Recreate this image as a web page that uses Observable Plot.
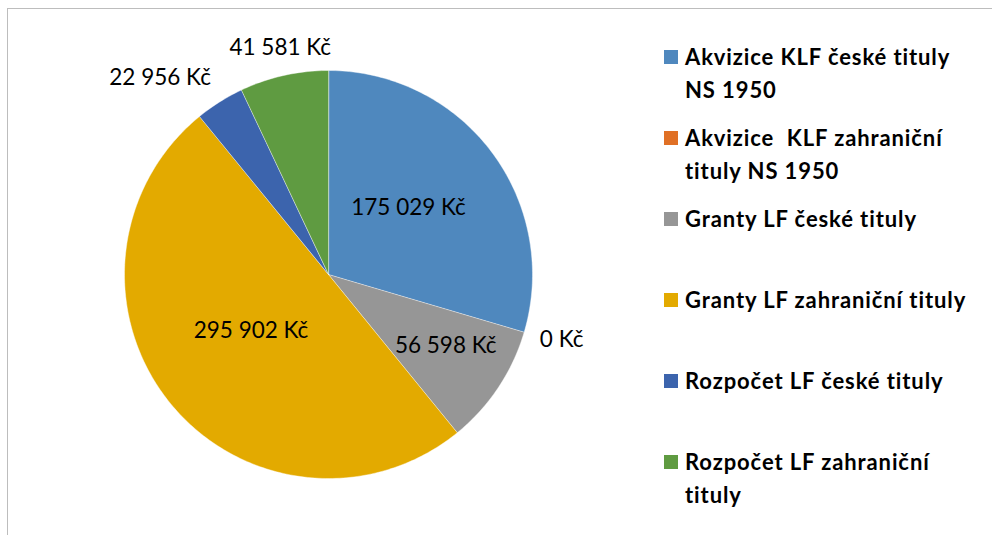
<!DOCTYPE html>
<html>
<head>
<meta charset="utf-8">
<script src="https://cdn.jsdelivr.net/npm/d3@7"></script>
<script src="https://cdn.jsdelivr.net/npm/@observablehq/plot@0.6"></script>
<style>
  html, body { margin: 0; padding: 0; background: #fff; }
  #wrap { position: relative; width: 992px; height: 535px; overflow: hidden; font-family: Lato, "Open Sans", sans-serif; }
  #frame { position: absolute; left: 7px; top: 8px; right: -2px; bottom: -2px; border-left: 1.5px solid #bdbdbd; border-top: 1.5px solid #bdbdbd; }
  #legend { position: absolute; left: 664px; top: 40px; }
  .item { height: 81px; display: flex; align-items: flex-start; }
  .sw { width: 14px; height: 14px; margin-top: 10px; margin-right: 7px; flex: none; }
  .lt { font-weight: bold; font-size: 22px; letter-spacing: 0.9px; line-height: 33px; color: #000; width: 293px; white-space: pre-wrap; }
  svg { position: absolute; left: 0; top: 0; }
</style>
</head>
<body>
<div id="wrap"><div id="frame"></div><div id="legend"></div></div>
<script>
const categories = [
  "Akvizice KLF české tituly NS 1950",
  "Akvizice  KLF zahraniční tituly NS 1950",
  "Granty LF české tituly",
  "Granty LF zahraniční tituly",
  "Rozpočet LF české tituly",
  "Rozpočet LF zahraniční tituly"
];
const values = [175029, 0, 56598, 295902, 22956, 41581];
const valueLabels = ["175 029 Kč", "0 Kč", "56 598 Kč", "295 902 Kč", "22 956 Kč", "41 581 Kč"];
const colors = ["#4F88BE", "#E07025", "#969696", "#E3AA00", "#3C64AD", "#5F9B41"];

const total = d3.sum(values);
const arcs = d3.pie().sort(null).value(d => d)(values);
const R = 204; // pie radius in pixels (matches the margins below)

// polygon points for each slice (y up, unit radius)
const pts = [];
arcs.forEach((a, i) => {
  if (a.endAngle - a.startAngle <= 0) return;
  pts.push({cat: categories[i], x: 0, y: 0});
  const n = Math.max(2, Math.ceil((a.endAngle - a.startAngle) / (Math.PI / 180)));
  for (let k = 0; k <= n; k++) {
    const t = a.startAngle + (a.endAngle - a.startAngle) * k / n;
    pts.push({cat: categories[i], x: Math.sin(t), y: Math.cos(t)});
  }
});

// labels: inside for larger slices, outside (best-fit style) for small ones
const labels = arcs.map((a, i) => {
  const share = values[i] / total;
  const mid = (a.startAngle + a.endAngle) / 2;
  const inside = share >= 0.08;
  const s = Math.sin(mid), c = Math.cos(mid);
  if (inside) {
    const r = share < 0.2 ? 0.69 : 0.49;
    return {text: valueLabels[i], x: r * s, y: r * c + 7 / R, anchor: "middle"};
  }
  const r = 1.08;
  const anchor = Math.abs(s) < 0.3 ? "middle" : s > 0 ? "start" : "end";
  return {text: valueLabels[i], x: r * s, y: r * c + (12 / R) * c, anchor};
});

const chart = Plot.plot({
  width: 992,
  height: 535,
  marginLeft: 124,
  marginRight: 460,
  marginTop: 70,
  marginBottom: 57,
  x: {domain: [-1, 1], axis: null},
  y: {domain: [-1, 1], axis: null},
  color: {domain: categories, range: colors},
  style: {background: "transparent", fontFamily: "Lato, 'Open Sans', sans-serif"},
  marks: [
    Plot.line(pts, {x: "x", y: "y", z: "cat", fill: "cat", stroke: "#ffffff", strokeWidth: 0.6, strokeOpacity: 0.7, curve: "linear-closed"}),
    ...["middle", "start", "end"].map(anc =>
      Plot.text(labels.filter(d => d.anchor === anc), {x: "x", y: "y", text: "text", textAnchor: anc, fontSize: 22.5, fill: "#000"}))
  ]
});
document.getElementById("wrap").appendChild(chart);

const legend = document.getElementById("legend");
categories.forEach((c, i) => {
  const item = document.createElement("div");
  item.className = "item";
  const sw = document.createElement("div");
  sw.className = "sw";
  sw.style.background = colors[i];
  const lt = document.createElement("div");
  lt.className = "lt";
  lt.textContent = c;
  item.appendChild(sw);
  item.appendChild(lt);
  legend.appendChild(item);
});
</script>
</body>
</html>
